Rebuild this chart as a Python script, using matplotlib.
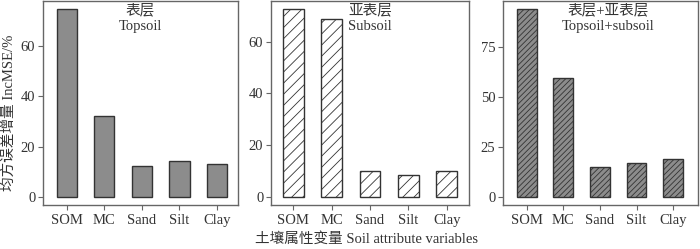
import matplotlib
matplotlib.use("Agg")
import matplotlib.pyplot as plt

# ----------------------------
# Data
# ----------------------------
variables = ["SOM", "MC", "Sand", "Silt", "Clay"]

topsoil = [74.5, 32.3, 12.4, 14.3, 13.2]
subsoil = [72.6, 68.7, 10.0, 8.4, 9.8]
combined = [93.7, 59.5, 15.0, 17.0, 19.0]

panel_titles = ["表层\nTopsoil", "亚表层\nSubsoil", "表层+亚表层\nTopsoil+subsoil"]
y_ticks = [[0, 20, 40, 60], [0, 20, 40, 60], [0, 25, 50, 75]]
y_limits = [(-3.2, 77.8), (-3.2, 75.8), (-4.2, 97.8)]

# ----------------------------
# Style
# ----------------------------
FONT = ["Liberation Serif", "Noto Sans CJK SC", "DejaVu Sans"]
plt.rcParams["font.family"] = FONT
plt.rcParams["font.size"] = 10.5
plt.rcParams["hatch.linewidth"] = 0.6

TEXT = "#333333"
FRAME = "#666666"
GRAY = "#8c8c8c"
EDGE = "#333333"

bar_styles = [
    dict(color=GRAY, edgecolor=EDGE, hatch=None),
    dict(color="white", edgecolor=EDGE, hatch="///"),
    dict(color=GRAY, edgecolor=EDGE, hatch="//////"),
]

fig = plt.figure(figsize=(7.0, 2.49), dpi=100)

# axes rectangles in figure fractions
rects = [
    [43 / 700, 0.177, 195 / 700, 0.819],
    [271 / 700, 0.177, 198 / 700, 0.819],
    [503 / 700, 0.177, 195 / 700, 0.819],
]
xlims = [(-0.63, 4.56), (-0.58, 4.58), (-0.65, 4.68)]
title_x = [0.5, 0.5, 0.54]

series = [topsoil, subsoil, combined]
x = list(range(len(variables)))

for i, vals in enumerate(series):
    ax = fig.add_axes(rects[i])
    st = bar_styles[i]
    ax.bar(
        x, vals, width=0.54,
        color=st["color"], edgecolor=st["edgecolor"],
        hatch=st["hatch"], linewidth=1.0,
    )

    ax.set_xlim(*xlims[i])
    ax.set_ylim(*y_limits[i])
    ax.set_xticks(x)
    ax.set_xticklabels(variables)
    ax.set_yticks(y_ticks[i])

    ax.tick_params(direction="out", length=3.5, width=0.8,
                   colors=FRAME, labelcolor=TEXT, labelsize=10.5, pad=2)
    ax.tick_params(axis="x", pad=3)
    for sp in ax.spines.values():
        sp.set_color(FRAME)
        sp.set_linewidth(1.0)

    ax.text(title_x[i], 0.985, panel_titles[i], transform=ax.transAxes,
            ha="center", va="top", fontsize=10.5, color=TEXT,
            linespacing=1.2, family=FONT)

fig.text(9 / 700, 1 - 113 / 249, "均方误差增量 IncMSE/%", rotation=90,
         ha="center", va="center", fontsize=10.5, color=TEXT, family=FONT)
fig.text(367 / 700, 1 - 239 / 249, "土壤属性变量 Soil attribute variables",
         ha="center", va="center", fontsize=10.5, color=TEXT, family=FONT)

fig.savefig("out.png", dpi=100)
